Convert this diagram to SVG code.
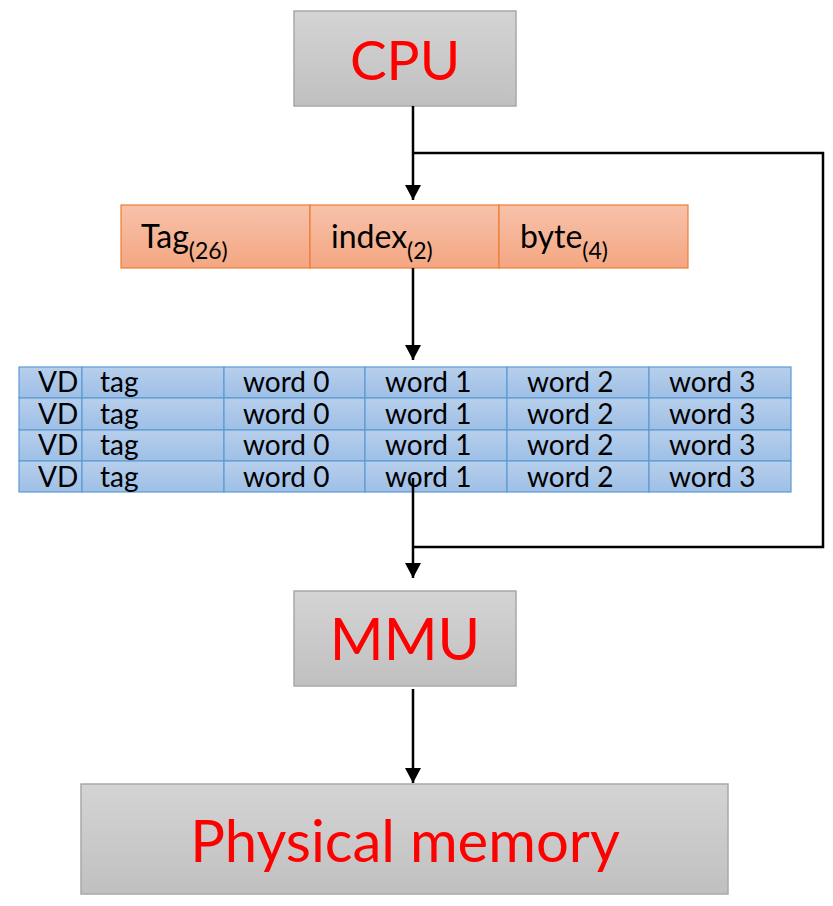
<svg xmlns="http://www.w3.org/2000/svg" width="833" height="906" viewBox="0 0 833 906">
<defs>
<linearGradient id="gGray" x1="0" y1="0" x2="0" y2="1"><stop offset="0" stop-color="#d4d4d4"/><stop offset="1" stop-color="#c0c0c0"/></linearGradient>
<linearGradient id="gOrange" x1="0" y1="0" x2="0" y2="1"><stop offset="0" stop-color="#f7c2aa"/><stop offset="1" stop-color="#f4a682"/></linearGradient>
<linearGradient id="gBlue" x1="0" y1="0" x2="0" y2="1"><stop offset="0" stop-color="#b7cfec"/><stop offset="1" stop-color="#9ebfe6"/></linearGradient>
<marker id="arr" markerUnits="userSpaceOnUse" markerWidth="16" markerHeight="16" refX="15" refY="8" orient="auto"><path d="M0,0 L15,8 L0,16 Z" fill="#000"/></marker>
<style>
.box{fill:url(#gGray);stroke:#a8a8a8;stroke-width:1.5}
.big{font-family:Lato,"Open Sans","Liberation Sans",sans-serif;fill:#ff0000;text-anchor:middle}
.seg{fill:url(#gOrange);stroke:#ed7d31;stroke-width:1.2}
.cell{fill:url(#gBlue);stroke:#5b9bd5;stroke-width:1.2}
.t{font-family:Lato,"Open Sans","Liberation Sans",sans-serif;fill:#000}
.tb{font-size:28px}
.con{fill:none;stroke:#000;stroke-width:2.5}
</style>
</defs>
<g id="cpu"><rect class="box" x="294" y="11" width="222" height="95"/><text class="big" x="405" y="80" font-size="55">CPU</text></g>
<g id="address">
<rect class="seg" x="121" y="205" width="189" height="63"/>
<rect class="seg" x="310" y="205" width="189" height="63"/>
<rect class="seg" x="499" y="205" width="189" height="63"/>
<text class="t" x="141" y="248" font-size="32">Tag<tspan font-size="23" dy="11">(26)</tspan></text>
<text class="t" x="331" y="248" font-size="32">index<tspan font-size="23" dy="11">(2)</tspan></text>
<text class="t" x="520" y="248" font-size="32">byte<tspan font-size="23" dy="11">(4)</tspan></text>
</g>
<g id="cache">
<g id="row0">
<rect class="cell" x="19" y="367" width="63" height="31"/><rect class="cell" x="82" y="367" width="142" height="31"/><rect class="cell" x="224" y="367" width="141" height="31"/><rect class="cell" x="365" y="367" width="142" height="31"/><rect class="cell" x="507" y="367" width="142" height="31"/><rect class="cell" x="649" y="367" width="142" height="31"/>
</g>
<g id="row1">
<rect class="cell" x="19" y="398" width="63" height="32"/><rect class="cell" x="82" y="398" width="142" height="32"/><rect class="cell" x="224" y="398" width="141" height="32"/><rect class="cell" x="365" y="398" width="142" height="32"/><rect class="cell" x="507" y="398" width="142" height="32"/><rect class="cell" x="649" y="398" width="142" height="32"/>
</g>
<g id="row2">
<rect class="cell" x="19" y="430" width="63" height="31"/><rect class="cell" x="82" y="430" width="142" height="31"/><rect class="cell" x="224" y="430" width="141" height="31"/><rect class="cell" x="365" y="430" width="142" height="31"/><rect class="cell" x="507" y="430" width="142" height="31"/><rect class="cell" x="649" y="430" width="142" height="31"/>
</g>
<g id="row3">
<rect class="cell" x="19" y="461" width="63" height="31"/><rect class="cell" x="82" y="461" width="142" height="31"/><rect class="cell" x="224" y="461" width="141" height="31"/><rect class="cell" x="365" y="461" width="142" height="31"/><rect class="cell" x="507" y="461" width="142" height="31"/><rect class="cell" x="649" y="461" width="142" height="31"/>
</g>
<g class="t tb">
<text x="38" y="392">VD</text><text x="100" y="392">tag</text><text x="243" y="392">word 0</text><text x="385" y="392">word 1</text><text x="527" y="392">word 2</text><text x="669" y="392">word 3</text>
<text x="38" y="424">VD</text><text x="100" y="424">tag</text><text x="243" y="424">word 0</text><text x="385" y="424">word 1</text><text x="527" y="424">word 2</text><text x="669" y="424">word 3</text>
<text x="38" y="455">VD</text><text x="100" y="455">tag</text><text x="243" y="455">word 0</text><text x="385" y="455">word 1</text><text x="527" y="455">word 2</text><text x="669" y="455">word 3</text>
<text x="38" y="487">VD</text><text x="100" y="487">tag</text><text x="243" y="487">word 0</text><text x="385" y="487">word 1</text><text x="527" y="487">word 2</text><text x="669" y="487">word 3</text>
</g>
</g>
<g id="mmu"><rect class="box" x="294" y="591" width="222" height="95"/><text class="big" x="405" y="660" font-size="58">MMU</text></g>
<g id="physical"><rect class="box" x="81" y="784" width="647" height="110"/><text class="big" x="405" y="862" font-size="58">Physical memory</text></g>
<g id="connectors">
<line class="con" x1="413" y1="106" x2="413" y2="200" marker-end="url(#arr)"/>
<polyline class="con" points="413,153 823,153 823,547 413,547"/>
<line class="con" x1="413" y1="268" x2="413" y2="360" marker-end="url(#arr)"/>
<line class="con" x1="413" y1="478" x2="413" y2="578" marker-end="url(#arr)"/>
<line class="con" x1="413" y1="689" x2="413" y2="783" marker-end="url(#arr)"/>
</g>
</svg>
